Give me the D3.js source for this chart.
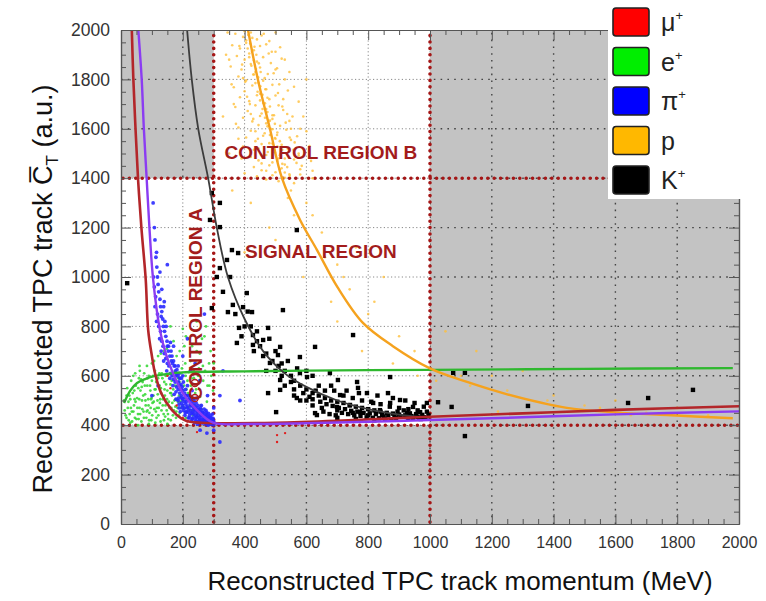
<!DOCTYPE html>
<html>
<head>
<meta charset="utf-8">
<script src="https://cdn.jsdelivr.net/npm/d3@7"></script>
<style>
  body { margin: 0; background: #fff; }
  text { font-family: "Liberation Sans", Arial, sans-serif; }
</style>
</head>
<body>
<div id="chart"></div>
<script>
// axis ranges and region cuts
const pRange = [0, 2000];
const cRange = [0, 2000];
const pCuts = [300, 1000];
const cCuts = [400, 1400];
const majorTicks = [0, 200, 400, 600, 800, 1000, 1200, 1400, 1600, 1800, 2000];

// expected response curves [momentum, C]
const muCurve = [[35,2000],[40,1800],[47,1600],[55,1400],[66,1200],[80,990],[88,785],[100,680],[110,611],[130,530],[165,461],[195,428],[223,414],[260,410],[350,408],[500,410],[700,418],[1000,434],[1300,448],[1600,462],[2000,477]];
const piCurve = [[56,2000],[67,1800],[74,1600],[83,1400],[92,1200],[104,990],[126,785],[145,690],[168,611],[200,530],[246,461],[298,410],[400,405],[600,408],[800,414],[1000,421],[1300,432],[1600,444],[2000,456]];
const kCurve = [[214,2000],[229,1800],[250,1600],[282,1400],[310,1200],[346,1000],[400,830],[460,700],[530,610],[600,555],[700,500],[800,465],[900,443],[1000,430]];
const pCurve = [[411,2000],[443,1800],[482,1600],[521,1400],[580,1230],[634,1110],[700,960],[783,814],[880,720],[1000,630],[1120,575],[1250,525],[1443,470],[1600,452],[1767,441],[1980,428]];
const eCurve = [[10,490],[30,540],[52,571],[80,588],[104,598],[150,608],[200,614],[400,618],[700,622],[1000,624],[1500,628],[1980,631]];

// reconstructed tracks [momentum, C]
const ePts = [[15,440],[22,470],[25,420],[30,505],[35,455],[38,530],[42,480],[45,430],[48,560],[52,510],[55,445],[58,590],[60,470],[63,540],[66,415],[68,500],[70,575],[73,455],[75,610],[78,525],[80,480],[82,430],[85,560],[88,505],[90,600],[92,450],[95,540],[98,420],[100,580],[102,490],[105,520],[108,465],[110,620],[112,545],[115,430],[118,500],[120,590],[122,470],[125,560],[128,415],[130,530],[132,610],[135,480],[138,445],[140,575],[142,520],[145,600],[148,460],[150,540],[153,425],[155,495],[158,640],[160,565],[163,470],[165,520],[168,440],[170,600],[173,500],[175,560],[178,430],[180,680],[183,470],[185,590],[188,520],[190,450],[195,610],[198,545],[200,480],[205,720],[208,650],[210,430],[215,580],[220,505],[225,660],[230,460],[235,620],[240,530],[245,700],[250,600],[258,480],[265,640],[270,760],[280,560],[290,700],[160,800],[140,700],[120,680],[200,790],[100,650],[60,640],[245,820],[300,650],[40,600],[20,550],[10,500],[28,445],[44,505],[57,425],[67,555],[86,460],[97,505],[113,455],[127,505],[143,435],[162,530],[176,475],[192,495],[212,545],[228,590],
    [12,460],[18,430],[24,495],[27,520],[32,470],[36,415],[40,455],[43,540],[47,495],[50,425],[53,470],[56,550],[59,505],[62,445],[65,585],[69,465],[72,520],[74,430],[77,560],[79,500],[83,455],[86,590],[89,480],[91,420],[94,560],[96,470],[99,510],[101,440],[104,600],[106,495],[109,545],[111,410],[114,575],[116,470],[119,525],[121,440],[124,610],[126,490],[129,550],[131,460],[134,590],[136,505],[139,420],[141,545],[144,480],[146,565],[149,505],[152,445],[154,605],[157,470],[159,530],[161,420],[164,580],[166,490],[169,545],[171,460],[174,615],[177,505],[179,455],[182,560],[184,495],[187,440],[189,575],[192,515],[194,470],[197,630],[199,500],[202,425],[204,560],[207,470],[209,600],[212,505],[214,455],[217,530],[219,615],[222,475],[226,560],[229,505],[233,440],[236,590],[239,480],[243,545],[247,450],[252,630],[256,515],[261,465],[266,580],[272,620],[278,495],[285,650],[292,600],[298,540],[33,580],[46,610],[61,620],[84,640],[107,660],[129,690],[148,710],[170,740],[190,700],[210,760],[230,720],[255,690],[262,750],[275,800],[286,560],[18,520],[55,400],[90,405],[150,405],[30,410]];
const piPts = [[105,1000],[108,960],[112,920],[110,880],[118,850],[115,820],[122,800],[128,780],[125,750],[132,740],[136,720],[130,700],[140,690],[145,670],[138,660],[150,650],[155,640],[148,620],[160,610],[165,600],[158,590],[170,585],[175,575],[168,560],[180,555],[185,545],[178,535],[190,530],[195,520],[186,510],[200,505],[205,495],[196,490],[210,485],[215,475],[205,470],[220,465],[225,460],[212,455],[230,450],[235,445],[222,440],[240,440],[245,435],[232,430],[250,430],[255,425],[242,420],[260,420],[265,418],[252,415],[270,415],[275,412],[262,410],[280,410],[285,408],[272,405],[290,405],[295,403],[300,402],[282,400],[178,600],[190,560],[200,540],[210,520],[220,500],[230,480],[240,470],[250,455],[260,445],[270,435],[280,428],[290,420],[300,415],[200,600],[215,560],[185,640],[230,540],[165,680],[245,510],[260,480],[275,460],[150,720],[170,720],[200,680],[225,620],[255,580],[280,520],[300,470],[130,840],[215,750],[240,650],[140,900],[320,520],[385,500],[256,380],[278,368],[320,332],[300,380],[120,560],[100,520],[330,620],[270,850],[150,1050],[115,1100],[218,430],[228,418],[238,410],[248,404],[258,440],[268,425],[278,445],[288,432],[298,428],[208,450],[198,470],[188,485],[178,505],[172,525],[194,545],[206,512],[226,478],[236,462],[246,448],[264,452],
    [185,500],[188,470],[192,455],[196,510],[199,480],[203,460],[207,440],[211,495],[214,470],[217,452],[221,430],[224,485],[227,448],[231,425],[234,470],[237,455],[241,430],[244,415],[247,460],[251,440],[254,418],[257,470],[261,432],[264,410],[267,450],[271,425],[274,440],[277,418],[281,405],[284,435],[287,415],[291,425],[294,410],[297,418],[300,408],[186,575],[190,590],[194,565],[198,555],[202,575],[206,530],[209,545],[213,520],[216,505],[219,520],[223,510],[226,495],[229,505],[233,488],[236,500],[239,478],[243,490],[246,470],[249,480],[253,465],[256,455],[259,462],[263,448],[266,440],[269,465],[273,430],[276,452],[279,436],[283,448],[286,422],[289,440],[293,430],[296,445],[172,640],[176,620],[180,610],[184,600],[163,660],[167,650],[158,680],[162,700],[154,720],[149,740],[145,760],[141,780],[137,800],[135,830],[132,860],[128,880],[126,910],[122,940],[120,970],[118,1000],[116,1040],[113,1080],[110,1150],[108,1200],[104,1300],[170,660],[175,640],[181,625],[188,610],[195,590],[153,700],[160,735],[146,800],[142,820],[138,880],[132,950],[126,1020]];
const protonPts = [[370,1985],[395,1972],[420,1990],[440,1962],[455,1978],[480,1955],[360,1938],[385,1925],[405,1948],[430,1918],[450,1935],[470,1942],[500,1912],[375,1895],[400,1880],[415,1905],[440,1872],[460,1890],[485,1866],[520,1884],[355,1852],[390,1840],[420,1862],[435,1830],[450,1848],[475,1822],[505,1845],[380,1812],[405,1796],[430,1820],[445,1786],[465,1805],[490,1778],[530,1800],[365,1768],[400,1752],[425,1775],[450,1742],[470,1760],[500,1735],[540,1755],[385,1728],[415,1712],[440,1736],[460,1704],[480,1720],[510,1695],[370,1688],[410,1672],[435,1695],[455,1662],[470,1680],[495,1655],[525,1676],[555,1650],[395,1645],[425,1630],[450,1652],[470,1622],[490,1640],[515,1612],[545,1632],[380,1605],[420,1592],[445,1615],[465,1582],[485,1600],[505,1575],[535,1596],[570,1570],[405,1565],[435,1550],[460,1572],[480,1542],[500,1560],[520,1535],[550,1555],[395,1528],[430,1515],[455,1538],[475,1506],[495,1522],[515,1498],[540,1518],[575,1492],[420,1486],[445,1472],[470,1494],[490,1464],[510,1480],[530,1455],[560,1476],[430,1445],[455,1432],[480,1452],[500,1424],[520,1440],[545,1416],[580,1436],[440,1408],[470,1395],[490,1412],[510,1388],[530,1402],[560,1380],[600,1300],[560,1250],[650,1180],[700,1050],[480,1200],[620,1400],[550,1350],[720,1000],[680,900],[800,850],[900,760],[950,700],[1100,600],[1250,540],[1500,480],[1700,450],[1050,780],[850,1000],[400,1100],[330,1650],[600,1800],[580,1600],[340,1900],[350,1500],[760,1120],[1150,700],[1300,620],[1600,500],[1800,470],[1130,560],[1380,500],[1220,455],
    [400,1995],[412,1980],[425,1968],[405,1958],[418,1945],[432,1932],[410,1925],[424,1912],[438,1900],[415,1890],[430,1878],[446,1865],[422,1855],[437,1842],[452,1830],[428,1820],[444,1808],[460,1795],[435,1785],[451,1772],[467,1760],[442,1750],[458,1738],[474,1726],[450,1715],[466,1703],[482,1690],[458,1680],[474,1668],[490,1655],[466,1645],[482,1633],[498,1620],[474,1610],[490,1598],[506,1585],[482,1575],[498,1563],[514,1550],[490,1540],[506,1528],[522,1515],[498,1505],[514,1493],[530,1480],[506,1470],[522,1458],[538,1445],[514,1435],[530,1423],[546,1410],[522,1402],[345,1990],[350,1880],[358,1780],[365,1700],[372,1620],[380,1560],[390,1480],[400,1420],[500,1990],[515,1930],[530,1880],[545,1830],[560,1770],[575,1710],[590,1650],[600,1590],[610,1530],[615,1470],[620,1430],[395,1805],[408,1730],[420,1660],[435,1590],[445,1520],[455,1460],[488,1912],[500,1840],[512,1780],[525,1720],[538,1660],[550,1600],[562,1545],[575,1500],[585,1450],[383,1935],[392,1860],[402,1790],[417,1700],[428,1640],[443,1560],[453,1495],[470,1430],[462,1985],[478,1905],[494,1825],[508,1745],[522,1690],[533,1625],[546,1565],[558,1515],[568,1462],[580,1415],[360,1350],[420,1300],[540,1320],[620,1250],[500,1150],[660,1080],[590,1000],[740,950],[820,900],[700,820],[780,700],[880,650],[960,600],[1020,580],[1200,600],[1400,520],[1550,470],[1650,440],[1900,440]];
const kPts = [[294,1340],[320,1300],[288,1231],[320,1202],[569,1190],[359,1109],[379,1097],[343,1069],[320,1036],[353,1000],[407,935],[362,887],[346,858],[395,878],[424,858],[524,866],[294,874],[382,794],[427,765],[476,794],[375,733],[427,725],[460,745],[515,717],[628,717],[751,765],[579,676],[508,684],[482,652],[515,583],[476,530],[515,543],[569,510],[502,453],[628,449],[579,611],[602,595],[676,611],[702,583],[764,575],[709,522],[767,551],[796,530],[871,595],[864,530],[816,490],[903,502],[945,474],[871,490],[990,490],[634,441],[699,474],[741,482],[773,453],[838,461],[926,449],[968,453],[450,720],[470,690],[490,660],[510,640],[530,620],[550,600],[560,580],[580,560],[600,545],[620,530],[640,520],[660,510],[680,500],[700,495],[720,490],[740,480],[760,475],[780,470],[800,465],[820,460],[840,455],[860,450],[880,447],[900,443],[920,440],[940,437],[960,434],[980,432],[640,560],[660,540],[690,540],[720,520],[750,510],[780,500],[810,495],[840,485],[870,475],[900,470],[930,465],[960,460],[990,455],[600,500],[650,470],[700,460],[750,450],[800,440],[850,435],[890,430],[930,428],[970,425],[530,560],[560,520],[580,500],[620,480],[540,660],[570,630],[500,700],[480,750],[420,800],[440,780],[600,620],[620,600],[680,560],[730,540],[770,530],[830,520],[880,510],[920,500],[950,490],[980,475],[700,430],[760,425],[820,420],[520,600],[470,620],[430,700],[390,760],[370,850],[410,860],[330,940],[310,1000],[20,975],[1026,493],[1070,474],[1075,612],[1113,612],[1113,356],[1317,478],[1641,490],[1706,510],[1851,543],
    [620,505],[645,495],[665,485],[685,478],[705,470],[725,465],[745,458],[765,455],[785,450],[805,448],[825,445],[845,442],[865,440],[885,438],[905,435],[925,433],[945,430],[965,428],[985,427],[655,455],[675,445],[695,440],[715,450],[735,445],[755,440],[775,438],[795,432],[815,430],[835,428],[855,425],[875,423],[895,455],[915,460],[935,448],[955,445],[975,442],[995,440],[560,545],[590,530],[610,515],[630,540],[550,575],[520,650],[500,620],[460,680],[440,740],[400,800]];
const muPts = [[246,372],[505,360],[531,368],[505,332],[180,480],[200,430],[160,550],[215,415],[150,600]];
const muRings = [[239,571],[239,510]];

const legendNames = ["μ", "e", "π", "p", "K"];
const legendCharges = ["+", "+", "+", "", "+"];
const legendColors = ["#ff0000", "#00ee00", "#0000ff", "#ffb800", "#000000"];

const width = 766, height = 601;
const margin = {top: 30, right: 27, bottom: 77, left: 121};

const x = d3.scaleLinear().domain(pRange).range([margin.left, width - margin.right]);
const y = d3.scaleLinear().domain(cRange).range([height - margin.bottom, margin.top]);

const svg = d3.select("#chart").append("svg")
    .attr("width", width)
    .attr("height", height);

// white (selected) areas; everything else in the frame is grey
const whiteBoxes = [
    {p0: pRange[0], p1: pCuts[1], c0: cCuts[0], c1: cCuts[1]},
    {p0: pCuts[0], p1: pCuts[1], c0: cCuts[1], c1: cRange[1]}
];

const defs = svg.append("defs");
const clipW = defs.append("clipPath").attr("id", "clipWhite");
whiteBoxes.forEach(b => clipW.append("rect")
    .attr("x", x(b.p0)).attr("y", y(b.c1))
    .attr("width", x(b.p1) - x(b.p0)).attr("height", y(b.c0) - y(b.c1)));
defs.append("clipPath").attr("id", "clipFrame").append("rect")
    .attr("x", x(0)).attr("y", y(2000)).attr("width", x(2000) - x(0)).attr("height", y(0) - y(2000));

svg.append("rect")
    .attr("x", x(0)).attr("y", y(2000))
    .attr("width", x(2000) - x(0)).attr("height", y(0) - y(2000))
    .attr("fill", "#c3c3c3");

// grid: dark dots on grey, light dots on white
function gridLines(g, color, w, dash) {
    g.selectAll("line.a").data(majorTicks.slice(1, -1)).join("line").attr("class", "a")
        .attr("x1", d => x(d)).attr("x2", d => x(d)).attr("y1", y(0)).attr("y2", y(2000));
    g.selectAll("line.b").data(majorTicks.slice(1, -1)).join("line").attr("class", "b")
        .attr("x1", x(0)).attr("x2", x(2000)).attr("y1", d => y(d)).attr("y2", d => y(d));
    g.selectAll("line").attr("stroke", color).attr("stroke-width", w).attr("stroke-dasharray", dash);
}
svg.append("g").call(gridLines, "#444", 1.4, "1.6,5.2");
const gridLight = svg.append("g").attr("clip-path", "url(#clipWhite)");
gridLight.append("rect").attr("x", 0).attr("y", 0).attr("width", width).attr("height", height).attr("fill", "#fff");
gridLight.append("g").call(gridLines, "#888", 1, "1.2,2.4");

// region boundaries
const bounds = svg.append("g")
    .attr("stroke", "#a51616")
    .attr("stroke-width", 3.6)
    .attr("stroke-linecap", "round")
    .attr("stroke-dasharray", "0,6.4");
bounds.selectAll(".bp").data(pCuts).join("line").attr("class", "bp")
    .attr("x1", d => x(d)).attr("x2", d => x(d)).attr("y1", y(0) - 2).attr("y2", y(2000) + 2);
bounds.selectAll(".bc").data(cCuts).join("line").attr("class", "bc")
    .attr("x1", x(0) + 2).attr("x2", x(2000)).attr("y1", d => y(d)).attr("y2", d => y(d));

// tracks
const pts = svg.append("g").attr("clip-path", "url(#clipFrame)");
pts.append("g").selectAll("circle").data(ePts).join("circle")
    .attr("cx", d => x(d[0])).attr("cy", d => y(d[1])).attr("r", 1.4)
    .attr("fill", "#2fd62f").attr("opacity", 0.85);
pts.append("g").selectAll("circle").data(protonPts).join("circle")
    .attr("cx", d => x(d[0])).attr("cy", d => y(d[1])).attr("r", 1.3)
    .attr("fill", "#ffbf3a").attr("opacity", 0.8);
pts.append("g").selectAll("circle").data(piPts).join("circle")
    .attr("cx", d => x(d[0])).attr("cy", d => y(d[1])).attr("r", 1.9)
    .attr("fill", "#2a2aff").attr("opacity", 0.9);
pts.append("g").selectAll("circle").data(muPts).join("circle")
    .attr("cx", d => x(d[0])).attr("cy", d => y(d[1])).attr("r", 1.2)
    .attr("fill", "#e02020");
pts.append("g").selectAll("circle").data(muRings).join("circle")
    .attr("cx", d => x(d[0])).attr("cy", d => y(d[1])).attr("r", 3.5)
    .attr("fill", "none").attr("stroke", "#b02020").attr("stroke-width", 1.4);
pts.append("g").selectAll("rect").data(kPts).join("rect")
    .attr("x", d => x(d[0]) - 2.2).attr("y", d => y(d[1]) - 2.2)
    .attr("width", 4.4).attr("height", 4.4)
    .attr("fill", "#000");

// expected curves
const lineY = d3.line().x(d => x(d[0])).y(d => y(d[1])).curve(d3.curveCatmullRom);
const curves = svg.append("g").attr("clip-path", "url(#clipFrame)").attr("fill", "none");
curves.append("path").datum(eCurve).attr("d", lineY).attr("stroke", "#2fb82f").attr("stroke-width", 2.4);
curves.append("path").datum(pCurve).attr("d", lineY).attr("stroke", "#f5a21e").attr("stroke-width", 2.4);
curves.append("path").datum(kCurve).attr("d", lineY).attr("stroke", "#3c3c3c").attr("stroke-width", 1.8);
curves.append("path").datum(muCurve).attr("d", lineY).attr("stroke", "#b3262a").attr("stroke-width", 2.6);
curves.append("path").datum(piCurve).attr("d", lineY).attr("stroke", "#8b3cf2").attr("stroke-width", 2.4);

// region labels
const labels = svg.append("g")
    .attr("fill", "#a31c1c")
    .attr("font-weight", "bold")
    .attr("font-size", 19)
    .attr("text-anchor", "middle");
labels.append("text").attr("x", x(647)).attr("y", y(1478)).text("CONTROL REGION B");
labels.append("text").attr("x", x(647)).attr("y", y(1077)).text("SIGNAL REGION");
labels.append("text")
    .attr("transform", `translate(${x(262)},${y(890)}) rotate(-90)`)
    .text("CONTROL REGION A");

// frame and inward ticks
const minorTicks = d3.range(0, 2001, 50).filter(v => v % 200 !== 0);
function tickAxis(axisFn, scale, vals, size, labelled) {
    const a = axisFn(scale).tickValues(vals).tickSizeInner(-size).tickSizeOuter(0);
    a.tickFormat(labelled ? d3.format("d") : "");
    return a;
}
const axes = svg.append("g");
const bottomMajor = axes.append("g").attr("transform", `translate(0,${y(0)})`)
    .call(tickAxis(d3.axisBottom, x, majorTicks, 10, true).tickPadding(13));
axes.append("g").attr("transform", `translate(0,${y(0)})`).call(tickAxis(d3.axisBottom, x, minorTicks, 5, false));
axes.append("g").attr("transform", `translate(0,${y(2000)})`).call(tickAxis(d3.axisTop, x, majorTicks, 10, false));
axes.append("g").attr("transform", `translate(0,${y(2000)})`).call(tickAxis(d3.axisTop, x, minorTicks, 5, false));
const leftMajor = axes.append("g").attr("transform", `translate(${x(0)},0)`)
    .call(tickAxis(d3.axisLeft, y, majorTicks, 10, true).tickPadding(11));
axes.append("g").attr("transform", `translate(${x(0)},0)`).call(tickAxis(d3.axisLeft, y, minorTicks, 5, false));
axes.append("g").attr("transform", `translate(${x(2000)},0)`).call(tickAxis(d3.axisRight, y, majorTicks, 10, false));
axes.append("g").attr("transform", `translate(${x(2000)},0)`).call(tickAxis(d3.axisRight, y, minorTicks, 5, false));
axes.selectAll("path.domain").attr("stroke", "#555").attr("stroke-width", 1.2);
axes.selectAll(".tick line").attr("stroke", "#555").attr("stroke-width", 1);
bottomMajor.selectAll("text").attr("font-size", 16).attr("fill", "#333").attr("font-family", null);
leftMajor.selectAll("text").attr("font-size", 17.5).attr("fill", "#333").attr("font-family", null);

// axis titles
svg.append("text")
    .attr("x", 460).attr("y", 590)
    .attr("text-anchor", "middle")
    .attr("font-size", 26)
    .attr("fill", "#111")
    .text("Reconstructed TPC track momentum (MeV)");

const yTitle = svg.append("text")
    .attr("transform", "translate(52,289) rotate(-90)")
    .attr("text-anchor", "middle")
    .attr("font-size", 27)
    .attr("fill", "#111");
yTitle.append("tspan").text("Reconstructed TPC track C\u0305");
yTitle.append("tspan").attr("font-size", 17).attr("dy", 6).text("T");
yTitle.append("tspan").attr("dy", -6).text(" (a.u.)");

// legend
const legend = svg.append("g");
legend.append("rect").attr("x", 608).attr("y", 0).attr("width", 158).attr("height", 199).attr("fill", "#fff");
const items = legend.selectAll("g").data(legendNames).join("g")
    .attr("transform", (d, i) => `translate(613,${8 + i * 39.5})`);
items.append("rect")
    .attr("width", 36).attr("height", 28).attr("rx", 3)
    .attr("fill", (d, i) => legendColors[i])
    .attr("stroke", "#222").attr("stroke-width", 1.6);
const itemText = items.append("text")
    .attr("x", 48).attr("y", 23)
    .attr("font-size", 25)
    .attr("fill", "#222");
itemText.append("tspan").text(d => d);
itemText.append("tspan").attr("font-size", 13).attr("dy", -11).text((d, i) => legendCharges[i]);
</script>
</body>
</html>
